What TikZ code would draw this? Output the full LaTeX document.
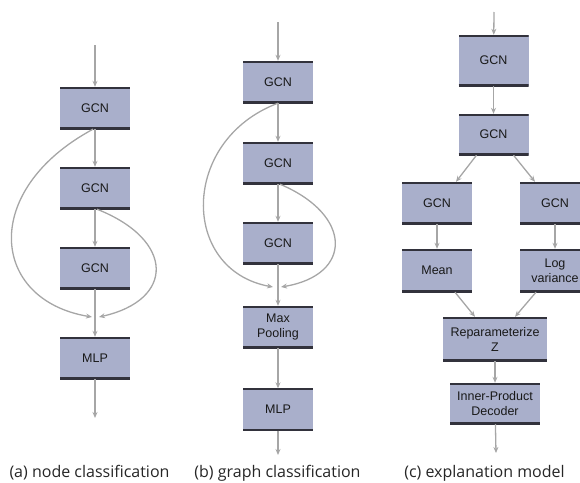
\documentclass[tikz,border=0pt]{standalone}
\usepackage{fontspec}
\setmainfont{Liberation Sans}
\newfontfamily\captionfont{Open Sans}
\usetikzlibrary{arrows.meta, positioning}
\definecolor{boxfill}{RGB}{169,175,203}
\definecolor{edgegray}{RGB}{166,166,166}
\definecolor{rimdark}{RGB}{50,50,60}
\tikzstyle{layer} = [rectangle, minimum width=70pt, minimum height=42pt, inner sep=0pt, align=center, fill=boxfill, text=black!90, font=\fontsize{12.5}{15}\selectfont, path picture={\draw[rimdark, line width=3.2pt] (path picture bounding box.north west) -- (path picture bounding box.north east); \draw[rimdark, line width=3.2pt] (path picture bounding box.south west) -- (path picture bounding box.south east);}]
\tikzstyle{flow} = [draw=edgegray, line width=1.3pt, -{Stealth[length=6pt, width=5pt]}]
\tikzstyle{caption} = [font=\captionfont\fontsize{16}{18}\selectfont, text=black!85]
\begin{document}
\begin{tikzpicture}[x=1pt, y=-1pt, node distance=80pt]
\clip (0,0) rectangle (580,482);
% (a) node classification
\coordinate (ina) at (95,45);
\node (a1) [layer] at (95,108) {GCN};
\node (a2) [layer, below of=a1] {GCN};
\node (a3) [layer, below of=a2] {GCN};
\node (mlpa) [layer, below of=a3, yshift=-10pt] {MLP};
\coordinate (mal) at (92,317);
\coordinate (mar) at (99,317);
\coordinate (outa) at (95,418);
\draw [flow] (ina) -- (a1);
\draw [flow] (a1) -- (a2);
\draw [flow] (a2) -- (a3);
\draw [flow] (a3) -- (mlpa);
\draw [flow] (mlpa) -- (outa);
\draw [flow] ([xshift=-2pt]a1.south) .. controls (-20,190) and (-10,300) .. (mal);
\draw [flow] ([xshift=2pt]a2.south) .. controls (175,240) and (175,300) .. (mar);
\node (capa) [caption] at (89.5,473) {(a) node classification};
% (b) graph classification
\coordinate (inb) at (278,22);
\node (b1) [layer] at (278,82) {GCN};
\node (b2) [layer, below of=b1, yshift=-1pt] {GCN};
\node (b3) [layer, below of=b2] {GCN};
\node (poolb) [layer, below of=b3, yshift=-4pt] {Max\\Pooling};
\node (mlpb) [layer, below of=poolb, yshift=-2.5pt] {MLP};
\coordinate (mbl) at (273,287);
\coordinate (mbr) at (281,287);
\coordinate (outb) at (278,455);
\draw [flow] (inb) -- (b1);
\draw [flow] (b1) -- (b2);
\draw [flow] (b2) -- (b3);
\draw [flow] (b3) -- (poolb);
\draw [flow] (poolb) -- (mlpb);
\draw [flow] (mlpb) -- (outb);
\draw [flow] (b1.south) .. controls (180,140) and (180,270) .. (mbl);
\draw [flow] ([xshift=2pt]b2.south) .. controls (353,215) and (353,275) .. (mbr);
\node (capb) [caption] at (277.5,473) {(b) graph classification};
% (c) explanation model
\coordinate (inc) at (494,12);
\node (c1) [layer, minimum height=51pt] at (493.5,60.5) {GCN};
\node (c2) [layer, minimum height=41pt] at (493.5,134.5) {GCN};
\node (c3) [layer] at (437,203) {GCN};
\node (c4) [layer] at (555,203) {GCN};
\node (mean) [layer, minimum height=43pt] at (437,270.5) {Mean};
\node (logvar) [layer, minimum height=43pt] at (555,270.5) {Log\\variance};
\node (rep) [layer, minimum width=104pt, minimum height=44pt] at (495,339) {Reparameterize\\Z};
\node (dec) [layer, minimum width=90pt, minimum height=41pt] at (495,403.5) {Inner-Product\\Decoder};
\coordinate (outc) at (496,453);
\draw [flow] (inc) -- (c1);
\draw [flow] (c1) -- (c2);
\draw [flow] ([xshift=-17pt]c2.south) -- ([xshift=19pt]c3.north);
\draw [flow] ([xshift=20pt]c2.south) -- ([xshift=-20pt]c4.north);
\draw [flow] (c3) -- (mean);
\draw [flow] (c4) -- (logvar);
\draw [flow] ([xshift=18pt]mean.south) -- ([xshift=-20pt]rep.north);
\draw [flow] ([xshift=-19pt]logvar.south) -- ([xshift=20pt]rep.north);
\draw [flow] (rep) -- (dec);
\draw [flow] (dec) -- (outc);
\node (capc) [caption] at (484.5,473) {(c) explanation model};
\end{tikzpicture}
\end{document}
